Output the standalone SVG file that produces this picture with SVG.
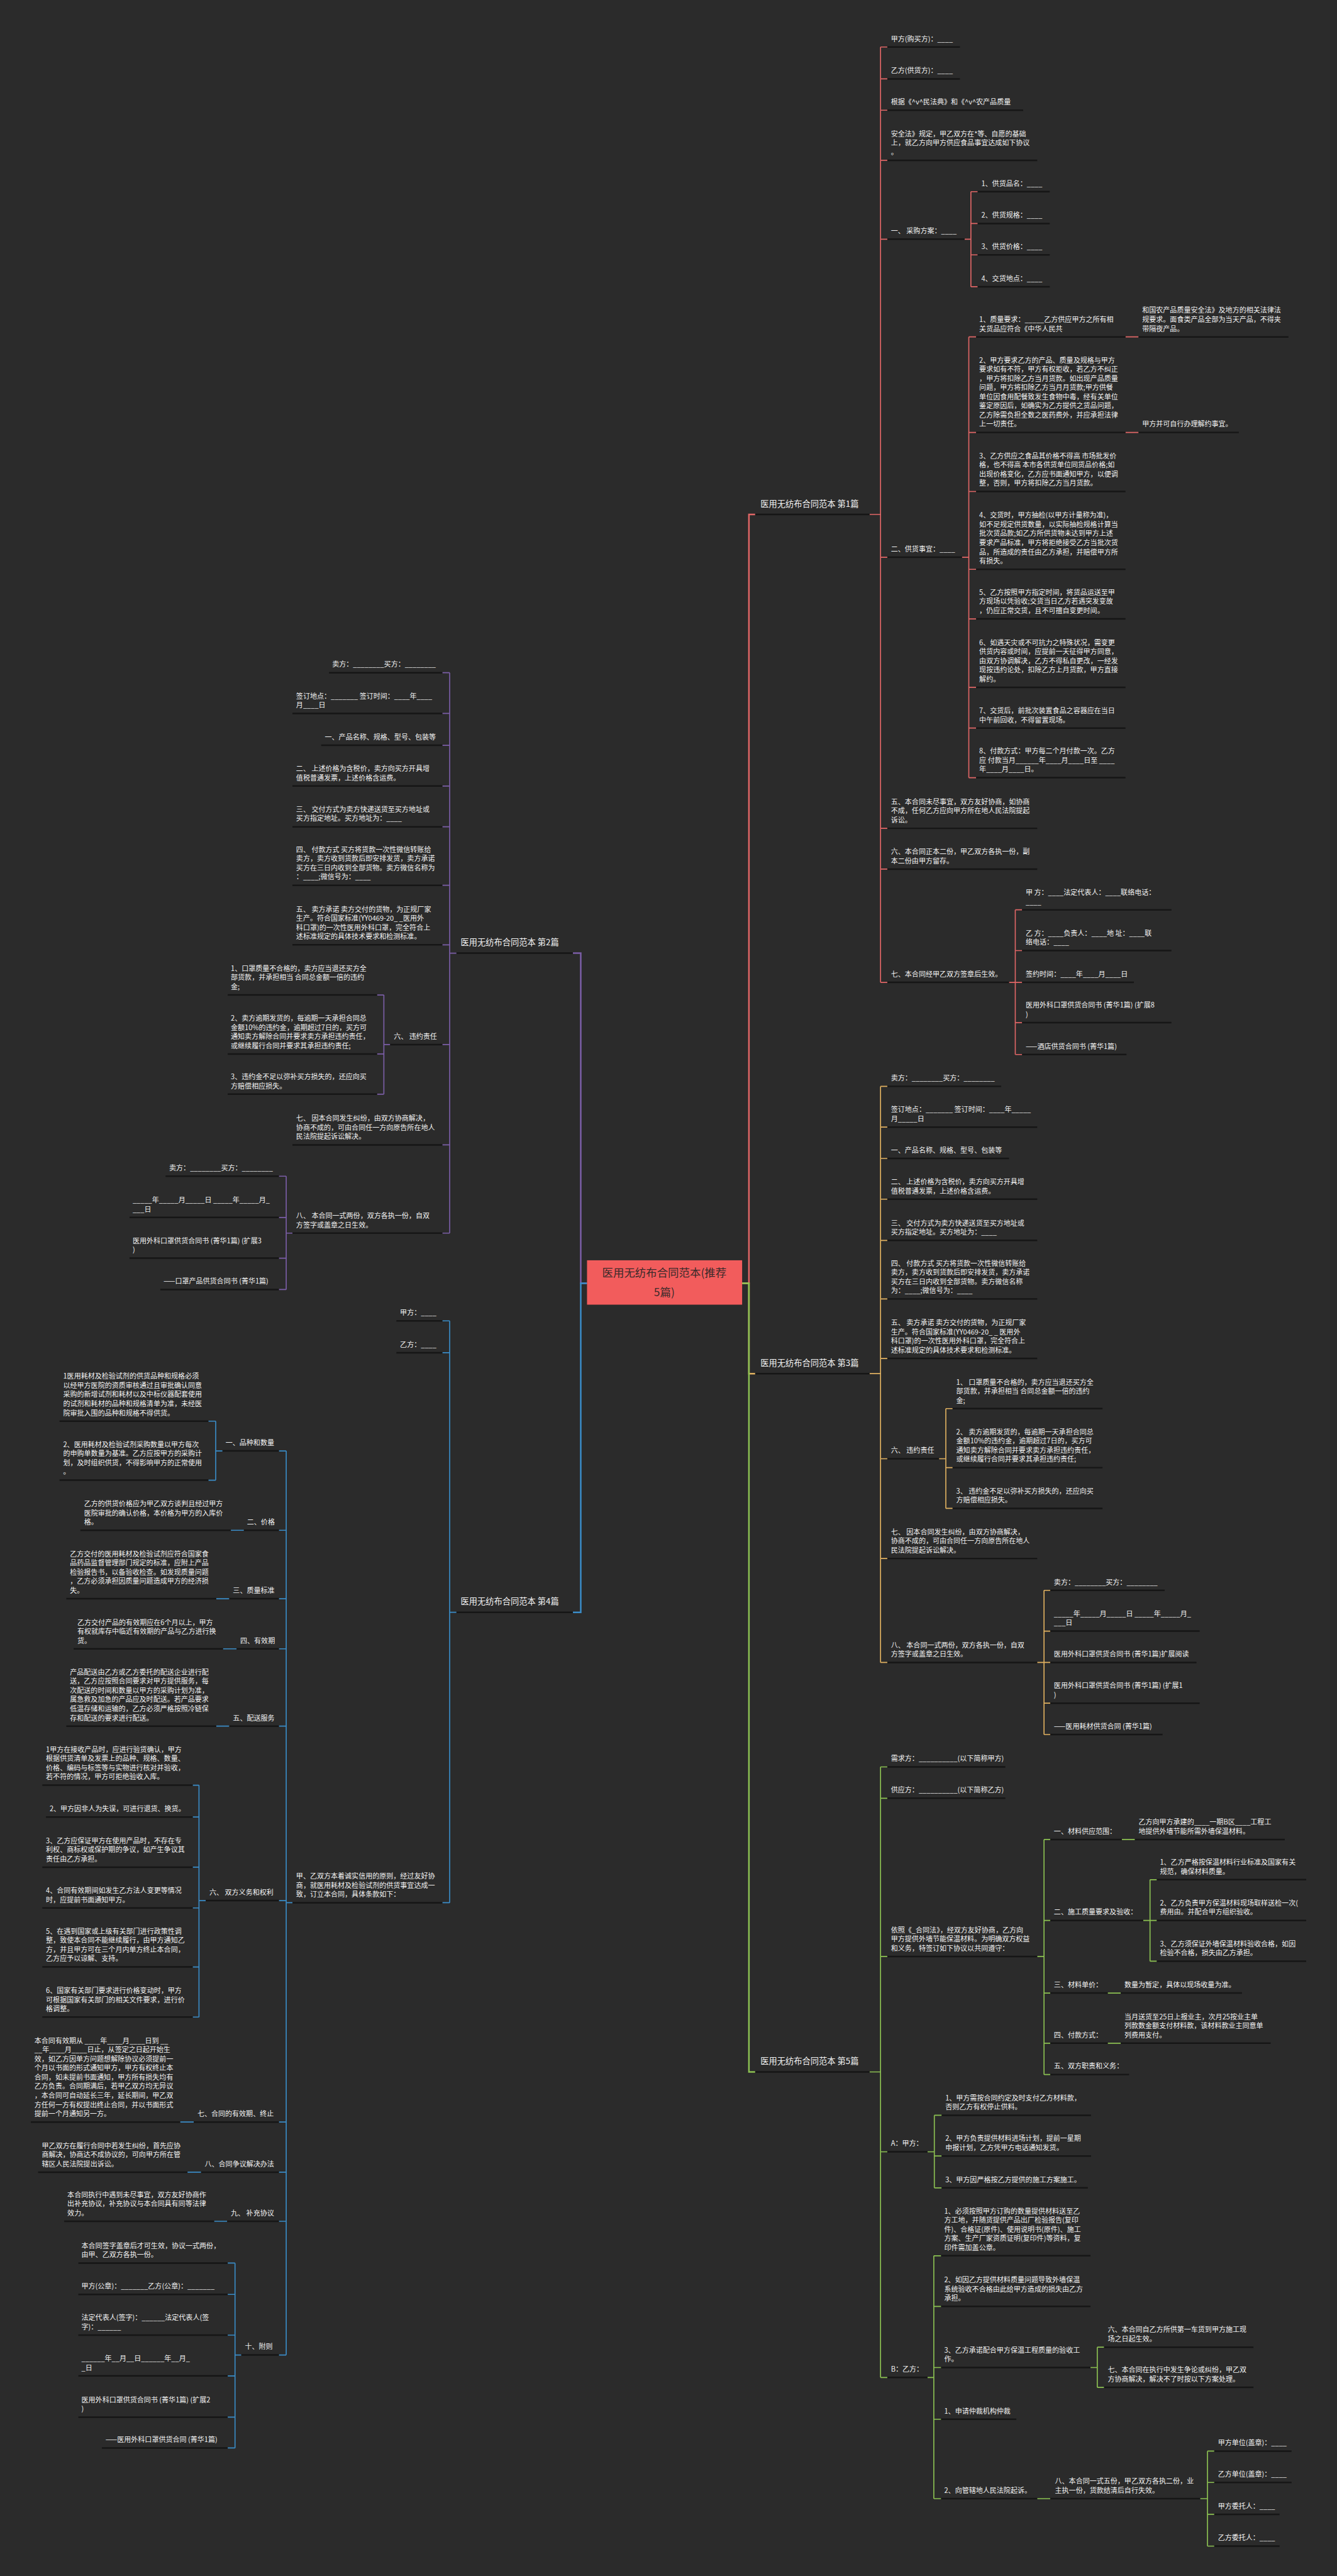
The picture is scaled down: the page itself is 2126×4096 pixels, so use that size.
<svg xmlns="http://www.w3.org/2000/svg" width="2126" height="4096" viewBox="0 0 2126 4096">
<style>
.t{font-family:"Noto Sans CJK SC","Noto Sans",sans-serif;font-size:13.3px;fill:#f2f2f2}
.lb{font-family:"Noto Sans CJK SC","Noto Sans",sans-serif;font-size:16px;fill:#f2f2f2}
.ct{font-family:"Noto Sans CJK SC","Noto Sans",sans-serif;font-size:21px;fill:#3a2a2a;text-anchor:middle}
.ul{stroke:#161616;stroke-width:3;fill:none}
.k1{fill:none;stroke:#e06666;stroke-width:2}
.k3{fill:none;stroke:#dfb060;stroke-width:2}
.k5{fill:none;stroke:#8cc152;stroke-width:2}
.k2{fill:none;stroke:#7b5ea7;stroke-width:2}
.k4{fill:none;stroke:#3a8cc7;stroke-width:2}
.m{stroke-width:3}
</style>
<rect x="0" y="0" width="2126" height="4096" fill="#2b2b2b"/>
<g transform="scale(0.83047)">
<g id="connectors">
<path class="k2 m" d="M1124 2457H1112V1825H1097"/>
<path class="k4 m" d="M1124 2457H1112V3087H1097"/>
<path class="k1 m" d="M1421 2457H1434V985H1446"/>
<path class="k3 m" d="M1421 2457H1434V2630H1446"/>
<path class="k5 m" d="M1421 2457H1434V3967H1446"/>
<path class="k1" d="M1665 985H1686M1686 90V1881M1686 90H1699M1686 151H1699M1686 211H1699M1686 307H1699M1686 458H1699M1686 1067H1699M1686 1586H1699M1686 1664H1699M1686 1881H1699"/>
<path class="k1" d="M1847 458H1859M1859 367V549M1859 367H1872M1859 428H1872M1859 488H1872M1859 549H1872"/>
<path class="k1" d="M1842 1067H1855M1855 645V1489M1855 645H1869M1855 828H1869M1855 941H1869M1855 1090H1869M1855 1185H1869M1855 1316H1869M1855 1394H1869M1855 1489H1869M2155 645H2180M2155 828H2180"/>
<path class="k1" d="M1932 1881H1944M1944 1742V2019M1944 1742H1957M1944 1820H1957M1944 1881H1957M1944 1958H1957M1944 2019H1957"/>
<path class="k3" d="M1665 2630H1686M1686 2080V3183M1686 2080H1699M1686 2158H1699M1686 2218H1699M1686 2296H1699M1686 2375H1699M1686 2487H1699M1686 2601H1699M1686 2793H1699M1686 2984H1699M1686 3183H1699"/>
<path class="k3" d="M1798 2793H1811M1811 2697V2888M1811 2697H1824M1811 2810H1824M1811 2888H1824"/>
<path class="k3" d="M1986 3183H1999M1999 3045V3321M1999 3045H2011M1999 3123H2011M1999 3183H2011M1999 3261H2011M1999 3321H2011"/>
<path class="k5" d="M1665 3967H1686M1686 3383V4552M1686 3383H1699M1686 3443H1699M1686 3746H1699M1686 4120H1699M1686 4552H1699"/>
<path class="k5" d="M1986 3746H1999M1999 3522V3972M1999 3522H2011M1999 3677H2011M1999 3816H2011M1999 3912H2011M1999 3972H2011M2148 3522H2173M2121 3816H2146M2121 3912H2146"/>
<path class="k5" d="M2189 3677H2202M2202 3599V3755M2202 3599H2215M2202 3677H2215M2202 3755H2215"/>
<path class="k5" d="M1776 4120H1789M1789 4050V4189M1789 4050H1803M1789 4128H1803M1789 4189H1803"/>
<path class="k5" d="M1776 4552H1788M1788 4319V4784M1788 4319H1802M1788 4416H1802M1788 4533H1802M1788 4632H1802M1788 4784H1802"/>
<path class="k5" d="M2088 4533H2101M2101 4494V4571M2101 4494H2114M2101 4571H2114M1986 4784H2011"/>
<path class="k5" d="M2298 4784H2312M2312 4693V4875M2312 4693H2325M2312 4753H2325M2312 4814H2325M2312 4875H2325"/>
<path class="k2" d="M874 1825H861M861 1288V2361M861 1288H847M861 1366H847M861 1427H847M861 1505H847M861 1583H847M861 1695H847M861 1809H847M861 2000H847M861 2192H847M861 2361H847"/>
<path class="k2" d="M747 2000H735M735 1905V2095M735 1905H722M735 2018H722M735 2095H722"/>
<path class="k2" d="M560 2361H548M548 2252V2469M548 2252H534M548 2331H534M548 2409H534M548 2469H534"/>
<path class="k4" d="M874 3087H861M861 2529V3643M861 2529H847M861 2590H847M861 3643H847"/>
<path class="k4" d="M560 3643H548M548 2778V4509M548 2778H534M548 2930H534M548 3061H534M548 3157H534M548 3305H534M548 3639H534M548 4063H534M548 4159H534M548 4253H534M548 4509H534"/>
<path class="k4" d="M426 2778H413M413 2721V2834M413 2721H399M413 2834H399M467 2930H442M439 3061H414M453 3157H427M439 3305H414M371 4063H345M385 4159H359M435 4253H410"/>
<path class="k4" d="M394 3639H381M381 3418V3862M381 3418H369M381 3479H369M381 3575H369M381 3653H369M381 3766H369M381 3862H369"/>
<path class="k4" d="M462 4509H450M450 4333V4687M450 4333H436M450 4393H436M450 4471H436M450 4549H436M450 4628H436M450 4687H436"/>
</g>

<g id="center">
<rect x="1124" y="2413" width="297" height="85" fill="#f25c5c"/>
<text class="ct" x="1272" y="2445">医用无纺布合同范本(推荐</text>
<text class="ct" x="1272" y="2482">5篇)</text>
</g>

<g id="b1">
<text class="lb" x="1456" y="970">医用无纺布合同范本 第1篇</text><line class="ul" x1="1446" y1="985" x2="1665" y2="985"/>
</g>
<g id="b1-n1"><text class="t" x="1706" y="79">甲方(购买方)：____</text><line class="ul" x1="1699" y1="90" x2="1838" y2="90"/></g>
<g id="b1-n2"><text class="t" x="1706" y="140">乙方(供货方)：____</text><line class="ul" x1="1699" y1="151" x2="1838" y2="151"/></g>
<g id="b1-n3"><text class="t" x="1706" y="200">根据《^v^民法典》和《^v^农产品质量</text><line class="ul" x1="1699" y1="211" x2="1959" y2="211"/></g>
<g id="b1-n4"><text class="t" x="1706" y="261"><tspan x="1706">安全法》规定，甲乙双方在*等、自愿的基础</tspan><tspan x="1706" dy="17.5">上，就乙方向甲方供应食品事宜达成如下协议</tspan><tspan x="1706" dy="17.5">。</tspan></text><line class="ul" x1="1699" y1="307" x2="1986" y2="307"/></g>
<g id="b1-n5"><text class="t" x="1706" y="447">一、 采购方案：____</text><line class="ul" x1="1699" y1="458" x2="1847" y2="458"/></g>
<g id="b1-n5-1"><text class="t" x="1879" y="356">1、供货品名：____</text><line class="ul" x1="1872" y1="367" x2="2010" y2="367"/></g>
<g id="b1-n5-2"><text class="t" x="1879" y="417">2、供货规格：____</text><line class="ul" x1="1872" y1="428" x2="2010" y2="428"/></g>
<g id="b1-n5-3"><text class="t" x="1879" y="477">3、供货价格：____</text><line class="ul" x1="1872" y1="488" x2="2010" y2="488"/></g>
<g id="b1-n5-4"><text class="t" x="1879" y="538">4、交货地点：____</text><line class="ul" x1="1872" y1="549" x2="2010" y2="549"/></g>
<g id="b1-n6"><text class="t" x="1706" y="1056">二、供货事宜：____</text><line class="ul" x1="1699" y1="1067" x2="1842" y2="1067"/></g>
<g id="b1-n6-1"><text class="t" x="1875" y="616.5"><tspan x="1875">1、质量要求：_____乙方供应甲方之所有相</tspan><tspan x="1875" dy="17.5">关货品应符合《中华人民共</tspan></text><line class="ul" x1="1869" y1="645" x2="2155" y2="645"/></g>
<g id="b1-n6-1a"><text class="t" x="2187" y="599"><tspan x="2187">和国农产品质量安全法》及地方的相关法律法</tspan><tspan x="2187" dy="17.5">规要求。面食类产品全部为当天产品，不得夹</tspan><tspan x="2187" dy="17.5">带隔夜产品。</tspan></text><line class="ul" x1="2180" y1="645" x2="2467" y2="645"/></g>
<g id="b1-n6-2"><text class="t" x="1875" y="694.5"><tspan x="1875">2、甲方要求乙方的产品、质量及规格与甲方</tspan><tspan x="1875" dy="17.5">要求如有不符，甲方有权拒收，若乙方不纠正</tspan><tspan x="1875" dy="17.5">，甲方将扣除乙方当月货款。如出现产品质量</tspan><tspan x="1875" dy="17.5">问题，甲方将扣除乙方当月月货款;甲方供餐</tspan><tspan x="1875" dy="17.5">单位因食用配餐致发生食物中毒，经有关单位</tspan><tspan x="1875" dy="17.5">鉴定原因后，如确实为乙方提供之货品问题，</tspan><tspan x="1875" dy="17.5">乙方除需负担全数之医药费外，并应承担法律</tspan><tspan x="1875" dy="17.5">上一切责任。</tspan></text><line class="ul" x1="1869" y1="828" x2="2155" y2="828"/></g>
<g id="b1-n6-2a"><text class="t" x="2187" y="817">甲方并可自行办理解约事宜。</text><line class="ul" x1="2180" y1="828" x2="2372" y2="828"/></g>
<g id="b1-n6-3"><text class="t" x="1875" y="877.5"><tspan x="1875">3、乙方供应之食品其价格不得高 市场批发价</tspan><tspan x="1875" dy="17.5">格，也不得高 本市各供货单位同货品价格;如</tspan><tspan x="1875" dy="17.5">出现价格变化，乙方应书面通知甲方，以便调</tspan><tspan x="1875" dy="17.5">整，否则，甲方将扣除乙方当月货款。</tspan></text><line class="ul" x1="1869" y1="941" x2="2155" y2="941"/></g>
<g id="b1-n6-4"><text class="t" x="1875" y="991.5"><tspan x="1875">4、交货时，甲方抽检(以甲方计量称为准)，</tspan><tspan x="1875" dy="17.5">如不足规定供货数量，以实际抽检规格计算当</tspan><tspan x="1875" dy="17.5">批次货品款;如乙方所供货物未达到甲方上述</tspan><tspan x="1875" dy="17.5">要求产品标准，甲方将拒绝接受乙方当批次货</tspan><tspan x="1875" dy="17.5">品，所造成的责任由乙方承担，并赔偿甲方所</tspan><tspan x="1875" dy="17.5">有损失。</tspan></text><line class="ul" x1="1869" y1="1090" x2="2155" y2="1090"/></g>
<g id="b1-n6-5"><text class="t" x="1875" y="1139"><tspan x="1875">5、乙方按照甲方指定时间，将货品运送至甲</tspan><tspan x="1875" dy="17.5">方现场以凭验收;交货当日乙方若遇突发变故</tspan><tspan x="1875" dy="17.5">，仍应正常交货，且不可擅自变更时间。</tspan></text><line class="ul" x1="1869" y1="1185" x2="2155" y2="1185"/></g>
<g id="b1-n6-6"><text class="t" x="1875" y="1235"><tspan x="1875">6、如遇天灾或不可抗力之特殊状况，需变更</tspan><tspan x="1875" dy="17.5">供货内容或时间，应提前一天征得甲方同意，</tspan><tspan x="1875" dy="17.5">由双方协调解决，乙方不得私自更改，一经发</tspan><tspan x="1875" dy="17.5">现按违约论处，扣除乙方上月货款，甲方直接</tspan><tspan x="1875" dy="17.5">解约。</tspan></text><line class="ul" x1="1869" y1="1316" x2="2155" y2="1316"/></g>
<g id="b1-n6-7"><text class="t" x="1875" y="1365.5"><tspan x="1875">7、交货后，前批次装置食品之容器应在当日</tspan><tspan x="1875" dy="17.5">中午前回收，不得留置现场。</tspan></text><line class="ul" x1="1869" y1="1394" x2="2155" y2="1394"/></g>
<g id="b1-n6-8"><text class="t" x="1875" y="1443"><tspan x="1875">8、付款方式：甲方每二个月付款一次。乙方</tspan><tspan x="1875" dy="17.5">应 付款当月______年____月____日至 ____</tspan><tspan x="1875" dy="17.5">年____月____日。</tspan></text><line class="ul" x1="1869" y1="1489" x2="2155" y2="1489"/></g>
<g id="b1-n7"><text class="t" x="1706" y="1540"><tspan x="1706">五、本合同未尽事宜，双方友好协商，如协商</tspan><tspan x="1706" dy="17.5">不成，任何乙方应向甲方所在地人民法院提起</tspan><tspan x="1706" dy="17.5">诉讼。</tspan></text><line class="ul" x1="1699" y1="1586" x2="1986" y2="1586"/></g>
<g id="b1-n8"><text class="t" x="1706" y="1635.5"><tspan x="1706">六、本合同正本二份，甲乙双方各执一份，副</tspan><tspan x="1706" dy="17.5">本二份由甲方留存。</tspan></text><line class="ul" x1="1699" y1="1664" x2="1986" y2="1664"/></g>
<g id="b1-n9"><text class="t" x="1706" y="1870">七、本合同经甲乙双方签章后生效。</text><line class="ul" x1="1699" y1="1881" x2="1932" y2="1881"/></g>
<g id="b1-n9-1"><text class="t" x="1964" y="1713.5"><tspan x="1964">甲 方：____法定代表人：____联络电话：</tspan><tspan x="1964" dy="17.5">____</tspan></text><line class="ul" x1="1957" y1="1742" x2="2243" y2="1742"/></g>
<g id="b1-n9-2"><text class="t" x="1964" y="1791.5"><tspan x="1964">乙 方：____负责人：____地 址：____联</tspan><tspan x="1964" dy="17.5">络电话：____</tspan></text><line class="ul" x1="1957" y1="1820" x2="2243" y2="1820"/></g>
<g id="b1-n9-3"><text class="t" x="1964" y="1870">签约时间：____年____月____日</text><line class="ul" x1="1957" y1="1881" x2="2171" y2="1881"/></g>
<g id="b1-n9-4"><text class="t" x="1964" y="1929.5"><tspan x="1964">医用外科口罩供货合同书 (菁华1篇) (扩展8</tspan><tspan x="1964" dy="17.5">)</tspan></text><line class="ul" x1="1957" y1="1958" x2="2243" y2="1958"/></g>
<g id="b1-n9-5"><text class="t" x="1964" y="2008">——酒店供货合同书 (菁华1篇)</text><line class="ul" x1="1957" y1="2019" x2="2157" y2="2019"/></g>

<g id="b3"><text class="lb" x="1456" y="2615">医用无纺布合同范本 第3篇</text><line class="ul" x1="1446" y1="2630" x2="1665" y2="2630"/></g>
<g id="b3-n1"><text class="t" x="1706" y="2069">卖方：________买方：________</text><line class="ul" x1="1699" y1="2080" x2="1917" y2="2080"/></g>
<g id="b3-n2"><text class="t" x="1706" y="2129.5"><tspan x="1706">签订地点：_______ 签订时间：____年_____</tspan><tspan x="1706" dy="17.5">月_____日</tspan></text><line class="ul" x1="1699" y1="2158" x2="1986" y2="2158"/></g>
<g id="b3-n3"><text class="t" x="1706" y="2207">一、产品名称、规格、型号、包装等</text><line class="ul" x1="1699" y1="2218" x2="1932" y2="2218"/></g>
<g id="b3-n4"><text class="t" x="1706" y="2267.5"><tspan x="1706">二、 上述价格为含税价，卖方向买方开具增</tspan><tspan x="1706" dy="17.5">值税普通发票，上述价格含运费。</tspan></text><line class="ul" x1="1699" y1="2296" x2="1986" y2="2296"/></g>
<g id="b3-n5"><text class="t" x="1706" y="2346.5"><tspan x="1706">三、 交付方式为卖方快递送货至买方地址或</tspan><tspan x="1706" dy="17.5">买方指定地址。买方地址为：____</tspan></text><line class="ul" x1="1699" y1="2375" x2="1986" y2="2375"/></g>
<g id="b3-n6"><text class="t" x="1706" y="2423.5"><tspan x="1706">四、 付款方式 买方将货款一次性微信转账给</tspan><tspan x="1706" dy="17.5">卖方，卖方收到货款后即安排发货，卖方承诺</tspan><tspan x="1706" dy="17.5">买方在三日内收到全部货物。卖方微信名称</tspan><tspan x="1706" dy="17.5">为：____;微信号为：____</tspan></text><line class="ul" x1="1699" y1="2487" x2="1986" y2="2487"/></g>
<g id="b3-n7"><text class="t" x="1706" y="2537.5"><tspan x="1706">五、 卖方承诺 卖方交付的货物，为正规厂家</tspan><tspan x="1706" dy="17.5">生产。符合国家标准(YY0469-20_ _ 医用外</tspan><tspan x="1706" dy="17.5">科口罩)的一次性医用外科口罩，完全符合上</tspan><tspan x="1706" dy="17.5">述标准规定的具体技术要求和检测标准。</tspan></text><line class="ul" x1="1699" y1="2601" x2="1986" y2="2601"/></g>
<g id="b3-n8"><text class="t" x="1706" y="2782">六、 违约责任</text><line class="ul" x1="1699" y1="2793" x2="1798" y2="2793"/></g>
<g id="b3-n8-1"><text class="t" x="1831" y="2651"><tspan x="1831">1、 口罩质量不合格的，卖方应当退还买方全</tspan><tspan x="1831" dy="17.5">部货款，并承担相当 合同总金额一倍的违约</tspan><tspan x="1831" dy="17.5">金;</tspan></text><line class="ul" x1="1824" y1="2697" x2="2111" y2="2697"/></g>
<g id="b3-n8-2"><text class="t" x="1831" y="2746.5"><tspan x="1831">2、 卖方逾期发货的，每逾期一天承担合同总</tspan><tspan x="1831" dy="17.5">金额10%的违约金，逾期超过7日的，买方可</tspan><tspan x="1831" dy="17.5">通知卖方解除合同并要求卖方承担违约责任，</tspan><tspan x="1831" dy="17.5">或继续履行合同并要求其承担违约责任;</tspan></text><line class="ul" x1="1824" y1="2810" x2="2111" y2="2810"/></g>
<g id="b3-n8-3"><text class="t" x="1831" y="2859.5"><tspan x="1831">3、 违约金不足以弥补买方损失的，还应向买</tspan><tspan x="1831" dy="17.5">方赔偿相应损失。</tspan></text><line class="ul" x1="1824" y1="2888" x2="2111" y2="2888"/></g>
<g id="b3-n9"><text class="t" x="1706" y="2938"><tspan x="1706">七、 因本合同发生纠纷，由双方协商解决，</tspan><tspan x="1706" dy="17.5">协商不成的，可由合同任一方向原告所在地人</tspan><tspan x="1706" dy="17.5">民法院提起诉讼解决。</tspan></text><line class="ul" x1="1699" y1="2984" x2="1986" y2="2984"/></g>
<g id="b3-n10"><text class="t" x="1706" y="3154.5"><tspan x="1706">八、 本合同一式两份，双方各执一份，自双</tspan><tspan x="1706" dy="17.5">方签字或盖章之日生效。</tspan></text><line class="ul" x1="1699" y1="3183" x2="1986" y2="3183"/></g>
<g id="b3-n10-1"><text class="t" x="2018" y="3034">卖方：________买方：________</text><line class="ul" x1="2011" y1="3045" x2="2230" y2="3045"/></g>
<g id="b3-n10-2"><text class="t" x="2018" y="3094.5"><tspan x="2018">_____年_____月_____日 _____年_____月_</tspan><tspan x="2018" dy="17.5">___日</tspan></text><line class="ul" x1="2011" y1="3123" x2="2297" y2="3123"/></g>
<g id="b3-n10-3"><text class="t" x="2018" y="3172">医用外科口罩供货合同书 (菁华1篇)扩展阅读</text><line class="ul" x1="2011" y1="3183" x2="2291" y2="3183"/></g>
<g id="b3-n10-4"><text class="t" x="2018" y="3232.5"><tspan x="2018">医用外科口罩供货合同书 (菁华1篇) (扩展1</tspan><tspan x="2018" dy="17.5">)</tspan></text><line class="ul" x1="2011" y1="3261" x2="2297" y2="3261"/></g>
<g id="b3-n10-5"><text class="t" x="2018" y="3310">——医用耗材供货合同 (菁华1篇)</text><line class="ul" x1="2011" y1="3321" x2="2226" y2="3321"/></g>

<g id="b5"><text class="lb" x="1456" y="3952">医用无纺布合同范本 第5篇</text><line class="ul" x1="1446" y1="3967" x2="1665" y2="3967"/></g>
<g id="b5-n1"><text class="t" x="1706" y="3372">需求方：__________(以下简称甲方)</text><line class="ul" x1="1699" y1="3383" x2="1925" y2="3383"/></g>
<g id="b5-n2"><text class="t" x="1706" y="3432">供应方：__________(以下简称乙方)</text><line class="ul" x1="1699" y1="3443" x2="1925" y2="3443"/></g>
<g id="b5-n3"><text class="t" x="1706" y="3700"><tspan x="1706">依照《_合同法》，经双方友好协商，乙方向</tspan><tspan x="1706" dy="17.5">甲方提供外墙节能保温材料。为明确双方权益</tspan><tspan x="1706" dy="17.5">和义务，特签订如下协议以共同遵守：</tspan></text><line class="ul" x1="1699" y1="3746" x2="1986" y2="3746"/></g>
<g id="b5-n3-1"><text class="t" x="2018" y="3511">一、材料供应范围：</text><line class="ul" x1="2011" y1="3522" x2="2148" y2="3522"/></g>
<g id="b5-n3-1a"><text class="t" x="2180" y="3493.5"><tspan x="2180">乙方向甲方承建的____一期B区____工程工</tspan><tspan x="2180" dy="17.5">地提供外墙节能所需外墙保温材料。</tspan></text><line class="ul" x1="2173" y1="3522" x2="2460" y2="3522"/></g>
<g id="b5-n3-2"><text class="t" x="2018" y="3666">二、施工质量要求及验收：</text><line class="ul" x1="2011" y1="3677" x2="2189" y2="3677"/></g>
<g id="b5-n3-2-1"><text class="t" x="2221" y="3570.5"><tspan x="2221">1、乙方严格按保温材料行业标准及国家有关</tspan><tspan x="2221" dy="17.5">规范，确保材料质量。</tspan></text><line class="ul" x1="2215" y1="3599" x2="2501" y2="3599"/></g>
<g id="b5-n3-2-2"><text class="t" x="2221" y="3648.5"><tspan x="2221">2、乙方负责甲方保温材料现场取样送检一次(</tspan><tspan x="2221" dy="17.5">费用由。并配合甲方组织验收。</tspan></text><line class="ul" x1="2215" y1="3677" x2="2501" y2="3677"/></g>
<g id="b5-n3-2-3"><text class="t" x="2221" y="3726.5"><tspan x="2221">3、乙方须保证外墙保温材料验收合格，如因</tspan><tspan x="2221" dy="17.5">检验不合格，损失由乙方承担。</tspan></text><line class="ul" x1="2215" y1="3755" x2="2501" y2="3755"/></g>
<g id="b5-n3-3"><text class="t" x="2018" y="3805">三、材料单价：</text><line class="ul" x1="2011" y1="3816" x2="2121" y2="3816"/></g>
<g id="b5-n3-3a"><text class="t" x="2153" y="3805">数量为暂定，具体以现场收量为准。</text><line class="ul" x1="2146" y1="3816" x2="2378" y2="3816"/></g>
<g id="b5-n3-4"><text class="t" x="2018" y="3901">四、付款方式：</text><line class="ul" x1="2011" y1="3912" x2="2121" y2="3912"/></g>
<g id="b5-n3-4a"><text class="t" x="2153" y="3866"><tspan x="2153">当月送货至25日上报业主，次月25按业主单</tspan><tspan x="2153" dy="17.5">列款数金额支付材料款，该材料款业主同意单</tspan><tspan x="2153" dy="17.5">列费用支付。</tspan></text><line class="ul" x1="2146" y1="3912" x2="2433" y2="3912"/></g>
<g id="b5-n3-5"><text class="t" x="2018" y="3961">五、双方职责和义务：</text><line class="ul" x1="2011" y1="3972" x2="2162" y2="3972"/></g>
<g id="b5-n4"><text class="t" x="1706" y="4109">A：甲方：</text><line class="ul" x1="1699" y1="4120" x2="1776" y2="4120"/></g>
<g id="b5-n4-1"><text class="t" x="1810" y="4021.5"><tspan x="1810">1、甲方需按合同约定及时支付乙方材料款，</tspan><tspan x="1810" dy="17.5">否则乙方有权停止供料。</tspan></text><line class="ul" x1="1803" y1="4050" x2="2089" y2="4050"/></g>
<g id="b5-n4-2"><text class="t" x="1810" y="4099.5"><tspan x="1810">2、甲方负责提供材料进场计划，提前一星期</tspan><tspan x="1810" dy="17.5">申报计划，乙方凭甲方电话通知发货。</tspan></text><line class="ul" x1="1803" y1="4128" x2="2089" y2="4128"/></g>
<g id="b5-n4-3"><text class="t" x="1810" y="4178">3、甲方因严格按乙方提供的施工方案施工。</text><line class="ul" x1="1803" y1="4189" x2="2083" y2="4189"/></g>
<g id="b5-n5"><text class="t" x="1706" y="4541">B：乙方：</text><line class="ul" x1="1699" y1="4552" x2="1776" y2="4552"/></g>
<g id="b5-n5-1"><text class="t" x="1808" y="4238"><tspan x="1808">1、必须按照甲方订购的数量提供材料送至乙</tspan><tspan x="1808" dy="17.5">方工地，并随货提供产品出厂检验报告(复印</tspan><tspan x="1808" dy="17.5">件)、合格证(原件)、使用说明书(原件)、施工</tspan><tspan x="1808" dy="17.5">方案、生产厂家资质证明(复印件)等资料，复</tspan><tspan x="1808" dy="17.5">印件需加盖公章。</tspan></text><line class="ul" x1="1802" y1="4319" x2="2088" y2="4319"/></g>
<g id="b5-n5-2"><text class="t" x="1808" y="4370"><tspan x="1808">2、如因乙方提供材料质量问题导致外墙保温</tspan><tspan x="1808" dy="17.5">系统验收不合格由此给甲方造成的损失由乙方</tspan><tspan x="1808" dy="17.5">承担。</tspan></text><line class="ul" x1="1802" y1="4416" x2="2088" y2="4416"/></g>
<g id="b5-n5-3"><text class="t" x="1808" y="4504.5"><tspan x="1808">3、乙方承诺配合甲方保温工程质量的验收工</tspan><tspan x="1808" dy="17.5">作。</tspan></text><line class="ul" x1="1802" y1="4533" x2="2088" y2="4533"/></g>
<g id="b5-n5-3-1"><text class="t" x="2121" y="4465.5"><tspan x="2121">六、本合同自乙方所供第一车货到甲方施工现</tspan><tspan x="2121" dy="17.5">场之日起生效。</tspan></text><line class="ul" x1="2114" y1="4494" x2="2400" y2="4494"/></g>
<g id="b5-n5-3-2"><text class="t" x="2121" y="4542.5"><tspan x="2121">七、本合同在执行中发生争论或纠纷，甲乙双</tspan><tspan x="2121" dy="17.5">方协商解决，解决不了时按以下方案处理。</tspan></text><line class="ul" x1="2114" y1="4571" x2="2400" y2="4571"/></g>
<g id="b5-n5-4"><text class="t" x="1808" y="4621">1、申请仲裁机构仲裁</text><line class="ul" x1="1802" y1="4632" x2="1946" y2="4632"/></g>
<g id="b5-n5-5"><text class="t" x="1808" y="4773">2、向管辖地人民法院起诉。</text><line class="ul" x1="1802" y1="4784" x2="1986" y2="4784"/></g>
<g id="b5-n5-5a"><text class="t" x="2020" y="4755.5"><tspan x="2020">八、本合同一式五份，甲乙双方各执二份，业</tspan><tspan x="2020" dy="17.5">主执一份，货款结清后自行失效。</tspan></text><line class="ul" x1="2011" y1="4784" x2="2298" y2="4784"/></g>
<g id="b5-s1"><text class="t" x="2332" y="4682">甲方单位(盖章)：____</text><line class="ul" x1="2325" y1="4693" x2="2473" y2="4693"/></g>
<g id="b5-s2"><text class="t" x="2332" y="4742">乙方单位(盖章)：____</text><line class="ul" x1="2325" y1="4753" x2="2473" y2="4753"/></g>
<g id="b5-s3"><text class="t" x="2332" y="4803">甲方委托人：____</text><line class="ul" x1="2325" y1="4814" x2="2450" y2="4814"/></g>
<g id="b5-s4"><text class="t" x="2332" y="4864">乙方委托人：____</text><line class="ul" x1="2325" y1="4875" x2="2450" y2="4875"/></g>

<g id="b2"><text class="lb" x="882" y="1810">医用无纺布合同范本 第2篇</text><line class="ul" x1="874" y1="1825" x2="1097" y2="1825"/></g>
<g id="b2-n1"><text class="t" x="636" y="1277">卖方：________买方：________</text><line class="ul" x1="630" y1="1288" x2="847" y2="1288"/></g>
<g id="b2-n2"><text class="t" x="567" y="1337.5"><tspan x="567">签订地点：_______ 签订时间：____年____</tspan><tspan x="567" dy="17.5">月____日</tspan></text><line class="ul" x1="560" y1="1366" x2="847" y2="1366"/></g>
<g id="b2-n3"><text class="t" x="622" y="1416">一、产品名称、规格、型号、包装等</text><line class="ul" x1="615" y1="1427" x2="847" y2="1427"/></g>
<g id="b2-n4"><text class="t" x="567" y="1476.5"><tspan x="567">二、 上述价格为含税价，卖方向买方开具增</tspan><tspan x="567" dy="17.5">值税普通发票，上述价格含运费。</tspan></text><line class="ul" x1="560" y1="1505" x2="847" y2="1505"/></g>
<g id="b2-n5"><text class="t" x="567" y="1554.5"><tspan x="567">三、 交付方式为卖方快递送货至买方地址或</tspan><tspan x="567" dy="17.5">买方指定地址。买方地址为：____</tspan></text><line class="ul" x1="560" y1="1583" x2="847" y2="1583"/></g>
<g id="b2-n6"><text class="t" x="567" y="1631.5"><tspan x="567">四、 付款方式 买方将货款一次性微信转账给</tspan><tspan x="567" dy="17.5">卖方，卖方收到货款后即安排发货，卖方承诺</tspan><tspan x="567" dy="17.5">买方在三日内收到全部货物。卖方微信名称为</tspan><tspan x="567" dy="17.5">：____;微信号为：____</tspan></text><line class="ul" x1="560" y1="1695" x2="847" y2="1695"/></g>
<g id="b2-n7"><text class="t" x="567" y="1745.5"><tspan x="567">五、 卖方承诺 卖方交付的货物，为正规厂家</tspan><tspan x="567" dy="17.5">生产。符合国家标准(YY0469-20_ _医用外</tspan><tspan x="567" dy="17.5">科口罩)的一次性医用外科口罩，完全符合上</tspan><tspan x="567" dy="17.5">述标准规定的具体技术要求和检测标准。</tspan></text><line class="ul" x1="560" y1="1809" x2="847" y2="1809"/></g>
<g id="b2-n8"><text class="t" x="754" y="1989">六、 违约责任</text><line class="ul" x1="747" y1="2000" x2="847" y2="2000"/></g>
<g id="b2-n8-1"><text class="t" x="442" y="1859"><tspan x="442">1、口罩质量不合格的，卖方应当退还买方全</tspan><tspan x="442" dy="17.5">部货款，并承担相当 合同总金额一倍的违约</tspan><tspan x="442" dy="17.5">金;</tspan></text><line class="ul" x1="436" y1="1905" x2="722" y2="1905"/></g>
<g id="b2-n8-2"><text class="t" x="442" y="1954.5"><tspan x="442">2、卖方逾期发货的，每逾期一天承担合同总</tspan><tspan x="442" dy="17.5">金额10%的违约金，逾期超过7日的，买方可</tspan><tspan x="442" dy="17.5">通知卖方解除合同并要求卖方承担违约责任，</tspan><tspan x="442" dy="17.5">或继续履行合同并要求其承担违约责任;</tspan></text><line class="ul" x1="436" y1="2018" x2="722" y2="2018"/></g>
<g id="b2-n8-3"><text class="t" x="442" y="2066.5"><tspan x="442">3、违约金不足以弥补买方损失的，还应向买</tspan><tspan x="442" dy="17.5">方赔偿相应损失。</tspan></text><line class="ul" x1="436" y1="2095" x2="722" y2="2095"/></g>
<g id="b2-n9"><text class="t" x="567" y="2146"><tspan x="567">七、 因本合同发生纠纷，由双方协商解决，</tspan><tspan x="567" dy="17.5">协商不成的，可由合同任一方向原告所在地人</tspan><tspan x="567" dy="17.5">民法院提起诉讼解决。</tspan></text><line class="ul" x1="560" y1="2192" x2="847" y2="2192"/></g>
<g id="b2-n10"><text class="t" x="567" y="2332.5"><tspan x="567">八、 本合同一式两份，双方各执一份，自双</tspan><tspan x="567" dy="17.5">方签字或盖章之日生效。</tspan></text><line class="ul" x1="560" y1="2361" x2="847" y2="2361"/></g>
<g id="b2-n10-1"><text class="t" x="324" y="2241">卖方：________买方：________</text><line class="ul" x1="317" y1="2252" x2="534" y2="2252"/></g>
<g id="b2-n10-2"><text class="t" x="254" y="2302.5"><tspan x="254">_____年_____月_____日 _____年_____月_</tspan><tspan x="254" dy="17.5">___日</tspan></text><line class="ul" x1="248" y1="2331" x2="534" y2="2331"/></g>
<g id="b2-n10-3"><text class="t" x="254" y="2380.5"><tspan x="254">医用外科口罩供货合同书 (菁华1篇) (扩展3</tspan><tspan x="254" dy="17.5">)</tspan></text><line class="ul" x1="248" y1="2409" x2="534" y2="2409"/></g>
<g id="b2-n10-4"><text class="t" x="313" y="2458">——口罩产品供货合同书 (菁华1篇)</text><line class="ul" x1="307" y1="2469" x2="534" y2="2469"/></g>

<g id="b4"><text class="lb" x="882" y="3072">医用无纺布合同范本 第4篇</text><line class="ul" x1="874" y1="3087" x2="1097" y2="3087"/></g>
<g id="b4-n1"><text class="t" x="766" y="2518">甲方：____</text><line class="ul" x1="759" y1="2529" x2="847" y2="2529"/></g>
<g id="b4-n2"><text class="t" x="766" y="2579">乙方：____</text><line class="ul" x1="759" y1="2590" x2="847" y2="2590"/></g>
<g id="b4-n3"><text class="t" x="567" y="3597"><tspan x="567">甲、乙双方本着诚实信用的原则，经过友好协</tspan><tspan x="567" dy="17.5">商，就医用耗材及检验试剂的供货事宜达成一</tspan><tspan x="567" dy="17.5">致，订立本合同，具体条款如下：</tspan></text><line class="ul" x1="560" y1="3643" x2="847" y2="3643"/></g>
<g id="b4-c1"><text class="t" x="432" y="2767">一、品种和数量</text><line class="ul" x1="426" y1="2778" x2="534" y2="2778"/></g>
<g id="b4-c1-1"><text class="t" x="121" y="2640"><tspan x="121">1医用耗材及检验试剂的供货品种和规格必须</tspan><tspan x="121" dy="17.5">以经甲方医院的资质审核通过且审批确认同意</tspan><tspan x="121" dy="17.5">采购的新增试剂和耗材以及中标仪器配套使用</tspan><tspan x="121" dy="17.5">的试剂和耗材的品种和规格清单为准，未经医</tspan><tspan x="121" dy="17.5">院审批入围的品种和规格不得供货。</tspan></text><line class="ul" x1="114" y1="2721" x2="399" y2="2721"/></g>
<g id="b4-c1-2"><text class="t" x="121" y="2770.5"><tspan x="121">2、医用耗材及检验试剂采购数量以甲方每次</tspan><tspan x="121" dy="17.5">的申购单数量为基准。乙方应按甲方的采购计</tspan><tspan x="121" dy="17.5">划，及时组织供货，不得影响甲方的正常使用</tspan><tspan x="121" dy="17.5">。</tspan></text><line class="ul" x1="114" y1="2834" x2="399" y2="2834"/></g>
<g id="b4-c2"><text class="t" x="473" y="2919">二、价格</text><line class="ul" x1="467" y1="2930" x2="534" y2="2930"/></g>
<g id="b4-c2a"><text class="t" x="161" y="2884"><tspan x="161">乙方的供货价格应为甲乙双方谈判且经过甲方</tspan><tspan x="161" dy="17.5">医院审批的确认价格，本价格为甲方的入库价</tspan><tspan x="161" dy="17.5">格。</tspan></text><line class="ul" x1="154" y1="2930" x2="442" y2="2930"/></g>
<g id="b4-c3"><text class="t" x="446" y="3050">三、质量标准</text><line class="ul" x1="439" y1="3061" x2="534" y2="3061"/></g>
<g id="b4-c3a"><text class="t" x="134" y="2980"><tspan x="134">乙方交付的医用耗材及检验试剂应符合国家食</tspan><tspan x="134" dy="17.5">品药品监督管理部门规定的标准，应附上产品</tspan><tspan x="134" dy="17.5">检验报告书，以备验收检查。如发现质量问题</tspan><tspan x="134" dy="17.5">，乙方必须承担因质量问题造成甲方的经济损</tspan><tspan x="134" dy="17.5">失。</tspan></text><line class="ul" x1="127" y1="3061" x2="414" y2="3061"/></g>
<g id="b4-c4"><text class="t" x="460" y="3146">四、有效期</text><line class="ul" x1="453" y1="3157" x2="534" y2="3157"/></g>
<g id="b4-c4a"><text class="t" x="148" y="3111"><tspan x="148">乙方交付产品的有效期应在6个月以上，甲方</tspan><tspan x="148" dy="17.5">有权就库存中临近有效期的产品与乙方进行换</tspan><tspan x="148" dy="17.5">货。</tspan></text><line class="ul" x1="141" y1="3157" x2="427" y2="3157"/></g>
<g id="b4-c5"><text class="t" x="446" y="3294">五、配送服务</text><line class="ul" x1="439" y1="3305" x2="534" y2="3305"/></g>
<g id="b4-c5a"><text class="t" x="134" y="3206.5"><tspan x="134">产品配送由乙方或乙方委托的配送企业进行配</tspan><tspan x="134" dy="17.5">送，乙方应按照合同要求对甲方提供服务，每</tspan><tspan x="134" dy="17.5">次配送的时间和数量以甲方的采购计划为准，</tspan><tspan x="134" dy="17.5">属急救及加急的产品应及时配送。若产品要求</tspan><tspan x="134" dy="17.5">低温存储和运输的，乙方必须严格按照冷链保</tspan><tspan x="134" dy="17.5">存和配送的要求进行配送。</tspan></text><line class="ul" x1="127" y1="3305" x2="414" y2="3305"/></g>
<g id="b4-c6"><text class="t" x="401" y="3628">六、 双方义务和权利</text><line class="ul" x1="394" y1="3639" x2="534" y2="3639"/></g>
<g id="b4-c6-1"><text class="t" x="88" y="3354.5"><tspan x="88">1甲方在接收产品时，应进行验货确认，甲方</tspan><tspan x="88" dy="17.5">根据供货清单及发票上的品种、规格、数量、</tspan><tspan x="88" dy="17.5">价格、编码与标签等与实物进行核对并验收，</tspan><tspan x="88" dy="17.5">若不符的情况，甲方可拒绝验收入库。</tspan></text><line class="ul" x1="81" y1="3418" x2="369" y2="3418"/></g>
<g id="b4-c6-2"><text class="t" x="95" y="3468">2、甲方因非人为失误，可进行退货、换货。</text><line class="ul" x1="88" y1="3479" x2="369" y2="3479"/></g>
<g id="b4-c6-3"><text class="t" x="88" y="3529"><tspan x="88">3、乙方应保证甲方在使用产品时，不存在专</tspan><tspan x="88" dy="17.5">利权、商标权或保护期的争议，如产生争议其</tspan><tspan x="88" dy="17.5">责任由乙方承担。</tspan></text><line class="ul" x1="81" y1="3575" x2="369" y2="3575"/></g>
<g id="b4-c6-4"><text class="t" x="88" y="3624.5"><tspan x="88">4、合同有效期间如发生乙方法人变更等情况</tspan><tspan x="88" dy="17.5">时，应提前书面通知甲方。</tspan></text><line class="ul" x1="81" y1="3653" x2="369" y2="3653"/></g>
<g id="b4-c6-5"><text class="t" x="88" y="3702.5"><tspan x="88">5、在遇到国家或上级有关部门进行政策性调</tspan><tspan x="88" dy="17.5">整，致使本合同不能继续履行，由甲方通知乙</tspan><tspan x="88" dy="17.5">方，并且甲方可在三个月内单方终止本合同，</tspan><tspan x="88" dy="17.5">乙方应予以谅解、支持。</tspan></text><line class="ul" x1="81" y1="3766" x2="369" y2="3766"/></g>
<g id="b4-c6-6"><text class="t" x="88" y="3816"><tspan x="88">6、国家有关部门要求进行价格变动时，甲方</tspan><tspan x="88" dy="17.5">可根据国家有关部门的相关文件要求，进行价</tspan><tspan x="88" dy="17.5">格调整。</tspan></text><line class="ul" x1="81" y1="3862" x2="369" y2="3862"/></g>
<g id="b4-c7"><text class="t" x="378" y="4052">七、合同的有效期、终止</text><line class="ul" x1="371" y1="4063" x2="534" y2="4063"/></g>
<g id="b4-c7a"><text class="t" x="66" y="3912"><tspan x="66">本合同有效期从 ____年____月____日到 __</tspan><tspan x="66" dy="17.5">__年____月____日止，从签定之日起开始生</tspan><tspan x="66" dy="17.5">效，如乙方因单方问题想解除协议必须提前一</tspan><tspan x="66" dy="17.5">个月以书面的形式通知甲方，甲方有权终止本</tspan><tspan x="66" dy="17.5">合同，如未提前书面通知，甲方所有损失均有</tspan><tspan x="66" dy="17.5">乙方负责。合同期满后，若甲乙双方均无异议</tspan><tspan x="66" dy="17.5">，本合同可自动延长三年，延长期间，甲乙双</tspan><tspan x="66" dy="17.5">方任何一方有权提出终止合同，并以书面形式</tspan><tspan x="66" dy="17.5">提前一个月通知另一方。</tspan></text><line class="ul" x1="59" y1="4063" x2="345" y2="4063"/></g>
<g id="b4-c8"><text class="t" x="392" y="4148">八、合同争议解决办法</text><line class="ul" x1="385" y1="4159" x2="534" y2="4159"/></g>
<g id="b4-c8a"><text class="t" x="80" y="4113"><tspan x="80">甲乙双方在履行合同中若发生纠纷，首先应协</tspan><tspan x="80" dy="17.5">商解决，协商达不成协议的，可向甲方所在管</tspan><tspan x="80" dy="17.5">辖区人民法院提出诉讼。</tspan></text><line class="ul" x1="73" y1="4159" x2="359" y2="4159"/></g>
<g id="b4-c9"><text class="t" x="442" y="4242">九、 补充协议</text><line class="ul" x1="435" y1="4253" x2="534" y2="4253"/></g>
<g id="b4-c9a"><text class="t" x="129" y="4207"><tspan x="129">本合同执行中遇到未尽事宜，双方友好协商作</tspan><tspan x="129" dy="17.5">出补充协议，补充协议与本合同具有同等法律</tspan><tspan x="129" dy="17.5">效力。</tspan></text><line class="ul" x1="123" y1="4253" x2="410" y2="4253"/></g>
<g id="b4-c10"><text class="t" x="469" y="4498">十、附则</text><line class="ul" x1="462" y1="4509" x2="534" y2="4509"/></g>
<g id="b4-c10-1"><text class="t" x="156" y="4304.5"><tspan x="156">本合同签字盖章后才可生效，协议一式两份，</tspan><tspan x="156" dy="17.5">由甲、乙双方各执一份。</tspan></text><line class="ul" x1="150" y1="4333" x2="436" y2="4333"/></g>
<g id="b4-c10-2"><text class="t" x="156" y="4382">甲方(公章)：_______乙方(公章)：_______</text><line class="ul" x1="150" y1="4393" x2="436" y2="4393"/></g>
<g id="b4-c10-3"><text class="t" x="156" y="4442.5"><tspan x="156">法定代表人(签字)：______法定代表人(签</tspan><tspan x="156" dy="17.5">字)：______</tspan></text><line class="ul" x1="150" y1="4471" x2="436" y2="4471"/></g>
<g id="b4-c10-4"><text class="t" x="156" y="4520.5"><tspan x="156">______年__月__日______年__月_</tspan><tspan x="156" dy="17.5">_日</tspan></text><line class="ul" x1="150" y1="4549" x2="436" y2="4549"/></g>
<g id="b4-c10-5"><text class="t" x="156" y="4599.5"><tspan x="156">医用外科口罩供货合同书 (菁华1篇) (扩展2</tspan><tspan x="156" dy="17.5">)</tspan></text><line class="ul" x1="150" y1="4628" x2="436" y2="4628"/></g>
<g id="b4-c10-6"><text class="t" x="202" y="4676">——医用外科口罩供货合同 (菁华1篇)</text><line class="ul" x1="195" y1="4687" x2="436" y2="4687"/></g>
</g>
</svg>
